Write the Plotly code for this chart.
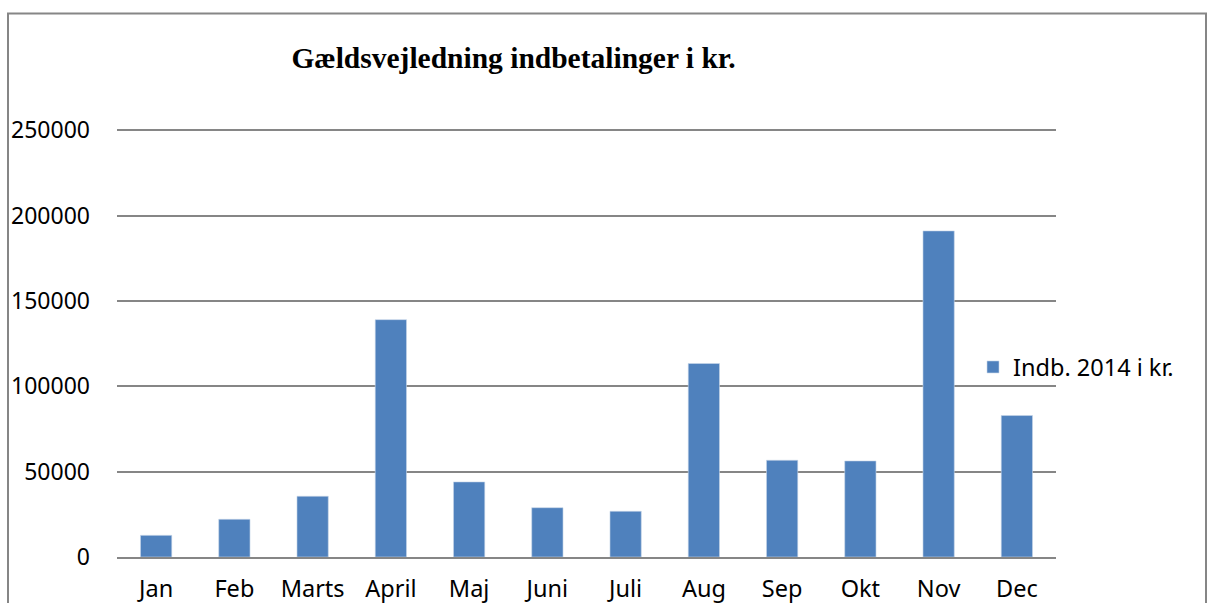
import plotly.graph_objects as go

months = ["Jan", "Feb", "Marts", "April", "Maj", "Juni", "Juli", "Aug", "Sep", "Okt", "Nov", "Dec"]
values = [12700, 22100, 35600, 139100, 44000, 28900, 26800, 113400, 56700, 56300, 191100, 82900]
series_name = "Indb. 2014 i kr."
title_text = "Gældsvejledning indbetalinger i kr."
y_ticks = [0, 50000, 100000, 150000, 200000, 250000]

W, H = 1209, 603
y_top = 252000
L, R, B = 117, 1056, 557
T = B - 427 * y_top / 250000
pw, ph = R - L, B - T

fig = go.Figure()
fig.add_trace(go.Bar(
    x=months, y=values, name=series_name,
    marker=dict(color="#4F81BD", line=dict(color="#C9D7EA", width=0.6)),
    showlegend=True,
))

grid = "#868686"
fig.update_layout(
    width=W, height=H,
    margin=dict(l=L, r=W - R, t=T, b=H - B, pad=0),
    paper_bgcolor="white", plot_bgcolor="white",
    bargap=0.6,
    title=dict(text="<b>" + title_text + "</b>", x=513.5 / W, xanchor="center", xref="container",
               y=1 - 58 / H, yanchor="middle", yref="container",
               font=dict(family="Liberation Serif", size=29.5, color="black")),
    font=dict(family="Noto Sans", size=23, color="black"),
    showlegend=True,
    legend=dict(x=(973 - L) / pw, xanchor="left", y=(B - 367) / ph, yanchor="middle",
                font=dict(family="Noto Sans", size=23.5, color="black"),
                bgcolor="rgba(0,0,0,0)", itemwidth=30),
    xaxis=dict(showgrid=False, showline=True, linecolor=grid, linewidth=2, ticks="",
               ticklabelstandoff=10, tickfont=dict(size=23.5), fixedrange=True, automargin=False),
    yaxis=dict(range=[0, y_top], tickvals=y_ticks, ticktext=[str(v) for v in y_ticks],
               showgrid=True, gridcolor=grid, gridwidth=2, zeroline=False, showline=False,
               ticks="", ticklabelstandoff=26, tickfont=dict(size=23), automargin=False),
    shapes=[dict(type="rect", xref="paper", yref="paper",
                 x0=(8 - L) / pw, x1=(1206 - L) / pw, y0=-0.3, y1=(B - 13) / ph,
                 line=dict(color=grid, width=2), fillcolor="rgba(0,0,0,0)", layer="below")],
)

fig.write_html("out.html", config={"displayModeBar": False},
               post_script="document.body.style.margin='0';")
